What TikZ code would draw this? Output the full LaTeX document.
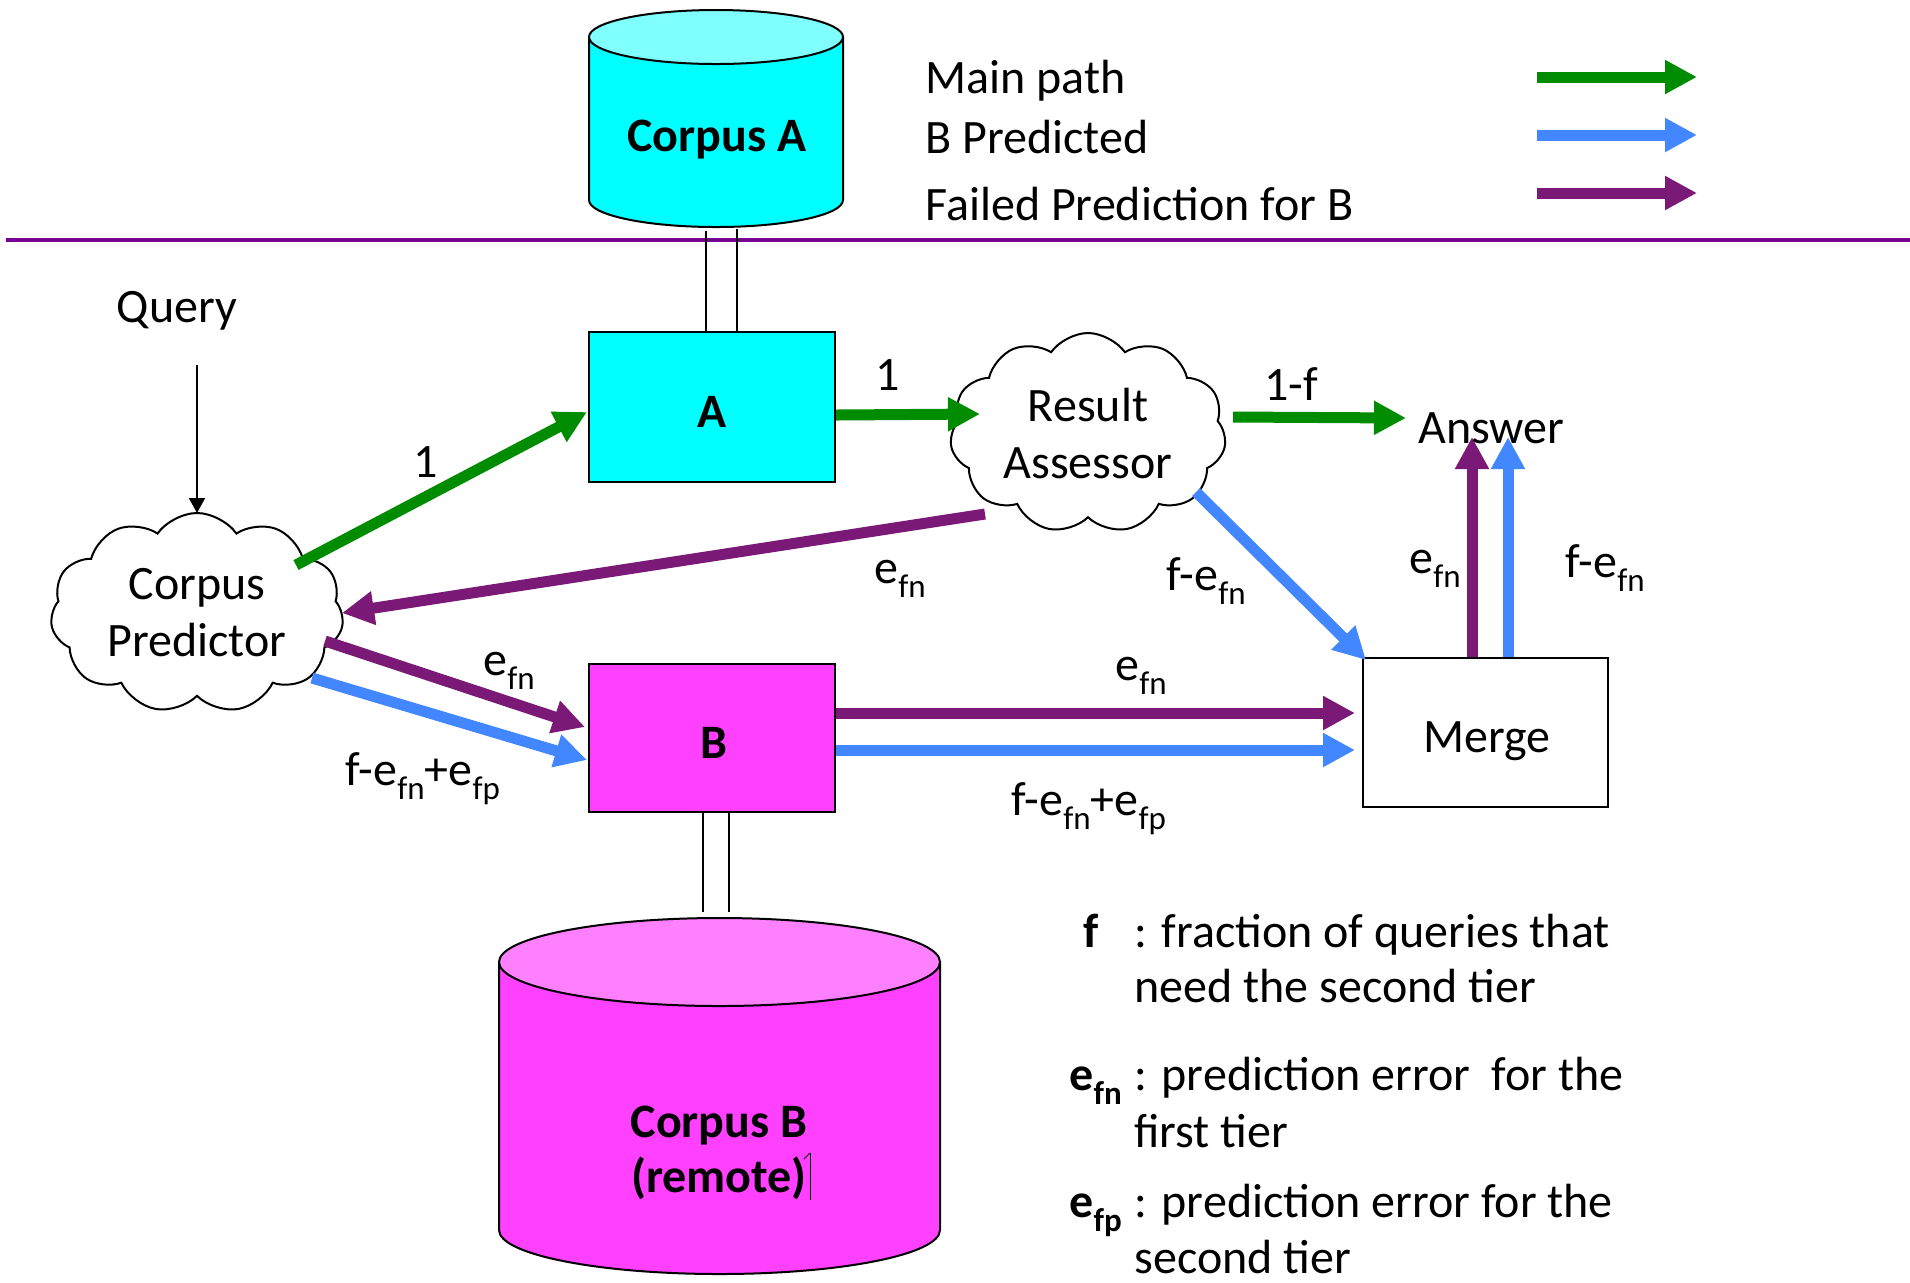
\documentclass[tikz,border=0pt]{standalone}
\usepackage{fontspec}
\setmainfont{Carlito}
\usetikzlibrary{arrows.meta,shapes.symbols,calc,backgrounds}

\definecolor{cyanbody}{RGB}{0,255,255}
\definecolor{cyantop}{RGB}{128,255,255}
\definecolor{magbody}{RGB}{255,64,255}
\definecolor{magtop}{RGB}{255,128,255}
\definecolor{pathgreen}{RGB}{0,140,0}
\definecolor{predblue}{RGB}{66,135,255}
\definecolor{failpurple}{RGB}{123,26,118}
\definecolor{rulepurple}{RGB}{120,0,150}

% lowered subscript used in the flow labels
\newcommand{\lsub}[1]{\raisebox{-7pt}{\fontsize{16.5pt}{17pt}\selectfont #1}}

\tikzset{
  lbl/.style={font=\fontsize{24pt}{28pt}\selectfont, inner sep=0pt},
  boldlbl/.style={inner sep=0pt, font=\fontsize{24pt}{28pt}\selectfont\bfseries},
  box/.style={draw=black, line width=1pt, inner sep=0pt},
  cloudy/.style={cloud, cloud puffs=11, cloud puff arc=110, cloud ignores aspect,
    draw=black, line width=1pt, fill=white, inner sep=0pt, align=center,
    font=\fontsize{24pt}{28.5pt}\selectfont},
  flow/.style={line width=5.5pt, -{Triangle[length=16pt,width=16pt]}},
  mainpath/.style={flow, draw=pathgreen},
  predicted/.style={flow, draw=predblue},
  failed/.style={flow, draw=failpurple},
  link/.style={draw=black, line width=0.6pt},
}

\begin{document}
\begin{tikzpicture}[x=0.5pt,y=-0.5pt]
\useasboundingbox (0,0) rectangle (1910,1282);

% ---- Corpus A (local store) ----
\filldraw[fill=cyanbody, line width=1pt] (589,37) -- (589,200)
  arc[start angle=180, end angle=360, x radius=63.5pt, y radius=13.5pt] -- (843,37) -- cycle;
\filldraw[fill=cyantop, line width=1pt] (716,37) ellipse [x radius=63.5pt, y radius=13.5pt];
\node[boldlbl, anchor=base] (corpA) at (717,151) {Corpus A};

% ---- legend of path colours ----
\coordinate (ruleL) at (6,240);
\coordinate (ruleR) at (1910,240);
\draw[rulepurple, line width=2pt] (ruleL) -- (ruleR);

\node[lbl, anchor=base west] (legMain) at (925,93) {Main path};
\node[lbl, anchor=base west] (legPred) at (925,153) {B Predicted};
\node[lbl, anchor=base west] (legFail) at (925,220) {Failed Prediction for B};
\coordinate (lgS) at (1537,77);  \coordinate (lgE) at (1697,77);
\coordinate (lbS) at (1537,135); \coordinate (lbE) at (1697,135);
\coordinate (lpS) at (1537,193); \coordinate (lpE) at (1697,193);
\draw[mainpath] (lgS) -- (lgE);
\draw[predicted] (lbS) -- (lbE);
\draw[failed] (lpS) -- (lpE);

% ---- first tier ----
\node[box, fill=cyanbody, minimum width=123pt, minimum height=75pt] (boxA) at (712,407) {};
\node[boldlbl, anchor=base] (labA) at (712,427) {A};
\coordinate (la1) at (706,231);
\coordinate (la2) at (737,229);
\draw[link] (la1) -- (la1 |- boxA.north);
\draw[link] (la2) -- (la2 |- boxA.north);

% ---- query and predictor ----
\node[lbl, anchor=base] (query) at (177,322) {Query};
\node[cloudy, minimum width=146.5pt, minimum height=100pt] (cp) at (197,613) {Corpus\\Predictor};
\draw[line width=0.8pt, -{Triangle[length=7.5pt,width=8pt]}]
  ($(query.base)+(20,43)$) -- ($(cp.center)+(0,-100)$);

% ---- result assessor ----
\node[cloudy, minimum width=138pt, minimum height=100pt] (ra) at (1088,433) {Result\\Assessor};

% ---- second tier ----
\node[box, fill=magbody, minimum width=123pt, minimum height=74pt] (boxB) at (712,738) {};
\node[boldlbl, anchor=base] (labB) at (714,758) {B};

\filldraw[fill=magbody, line width=1pt] (499,962) -- (499,1230)
  arc[start angle=180, end angle=360, x radius=110.25pt, y radius=22pt] -- (940,962) -- cycle;
\filldraw[fill=magtop, line width=1pt] (719.5,962) ellipse [x radius=110.25pt, y radius=22pt];
\node[boldlbl, anchor=base] (corpB) at (719,1137) {Corpus B};
\node[boldlbl, anchor=base] (corpBr) at (719,1192) {(remote)};
\coordinate (caretT) at (810,1153);
\coordinate (caretB) at (810,1200);
\draw[line width=0.5pt] (caretT) -- (caretB);
\draw[line width=0.5pt] (caretT) -- ++(-6,6);
\coordinate (lb1) at (703,912);
\coordinate (lb2) at (729,912);
\draw[link] (boxB.south -| lb1) -- (lb1);
\draw[link] (boxB.south -| lb2) -- (lb2);

% ---- merge and answer ----
\node[box, fill=white, minimum width=122.5pt, minimum height=74.5pt] (merge) at (1485.5,732.5) {};
\node[lbl, anchor=base] (labMerge) at (1487,752) {Merge};
\node[lbl, anchor=base west] (answer) at (1418,443) {Answer};

% ---- flows ----
\draw[mainpath] ($(cp.center)+(99,-48)$) -- ($(boxA.west)+(-1,5)$);
\draw[mainpath] ($(boxA.east)+(0,8)$) -- ($(ra.center)+(-108,-19)$);
\draw[mainpath] ($(ra.center)+(145,-16)$) -- ($(answer.base west)+(-12,-25)$);

\draw[failed] ($(ra.center)+(-103,81)$) -- ($(cp.center)+(145,0)$);
\draw[predicted] ($(ra.center)+(108,59)$) -- ($(merge.north west)+(4,3)$);

\draw[failed] ($(cp.center)+(128,28)$) -- ($(boxB.west)+(-3,-11)$);
\draw[predicted] ($(cp.center)+(115,65)$) -- ($(boxB.west)+(-1,22)$);

\draw[failed] ($(boxB.east)+(0,-25)$) -- ($(merge.west)+(-7,-19.5)$);
\draw[predicted] ($(boxB.east)+(0,12)$) -- ($(merge.west)+(-7,17.5)$);

\begin{scope}[on background layer]
  \draw[failed] ($(merge.north)+(-13.5,0)$) -- ($(answer.base west)+(54,-6)$);
  \draw[predicted] ($(merge.north)+(22.5,0)$) -- ($(answer.base west)+(90,-6)$);
\end{scope}

% ---- flow labels ----
\node[lbl, anchor=base] (f1a) at (426,477) {1};
\node[lbl, anchor=base] (f1b) at (888,390) {1};
\node[lbl, anchor=base] (f1f) at (1291,400) {1-f};
\node[lbl, anchor=base west] (fRaCp) at (874,583) {e\lsub{fn}};
\node[lbl, anchor=base west] (fRaMg) at (1166,590) {f-e\lsub{fn}};
\node[lbl, anchor=base west] (fBMp) at (1115,680) {e\lsub{fn}};
\node[lbl, anchor=base west] (fBMb) at (1011,815) {f-e\lsub{fn}+e\lsub{fp}};
\node[lbl, anchor=base west] (fCpBp) at (483,675) {e\lsub{fn}};
\node[lbl, anchor=base west] (fCpBb) at (345,785) {f-e\lsub{fn}+e\lsub{fp}};
\node[lbl, anchor=base west] (fMAp) at (1409,573) {e\lsub{fn}};
\node[lbl, anchor=base west] (fMAb) at (1565,577) {f-e\lsub{fn}};

% ---- symbol definitions ----
\node[boldlbl, anchor=base west] (defF) at (1083,947) {f};
\node[lbl, anchor=base west] (defF1) at (1134,947) {: fraction of queries that};
\node[lbl, anchor=base west] (defF2) at (1134,1002) {need the second tier};
\node[boldlbl, anchor=base west] (defFn) at (1069,1090) {e\lsub{fn}};
\node[lbl, anchor=base west] (defFn1) at (1134,1090) {: prediction error\ \ for the};
\node[lbl, anchor=base west] (defFn2) at (1134,1147) {first tier};
\node[boldlbl, anchor=base west] (defFp) at (1069,1217) {e\lsub{fp}};
\node[lbl, anchor=base west] (defFp1) at (1134,1217) {: prediction error for the};
\node[lbl, anchor=base west] (defFp2) at (1134,1273) {second tier};
\end{tikzpicture}
\end{document}
